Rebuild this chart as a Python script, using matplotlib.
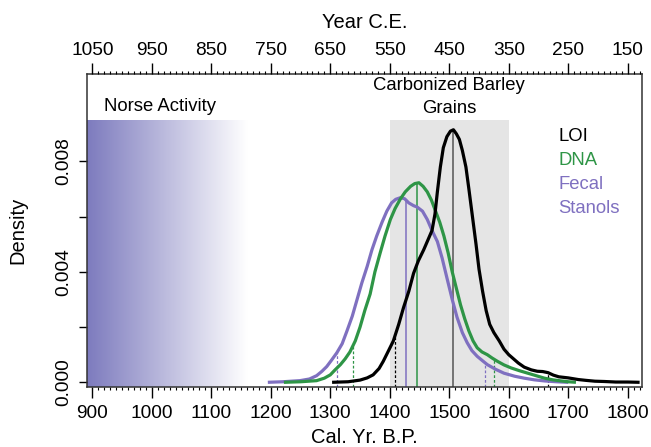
import numpy as np
import matplotlib
matplotlib.use("Agg")
import matplotlib.pyplot as plt
from matplotlib.ticker import MultipleLocator

plt.rcParams['font.family'] = ['Liberation Sans', 'DejaVu Sans']

# ---- data ----
loi_bp = [1303, 1330, 1350, 1362, 1372, 1382, 1389, 1398, 1406, 1415, 1423, 1432, 1440, 1448,
          1457, 1465, 1471, 1476, 1480, 1485, 1490, 1496, 1502, 1507, 1512, 1517, 1522, 1528,
          1533, 1539, 1545, 1550, 1556, 1562, 1568, 1575, 1584, 1592, 1600, 1608, 1616, 1626,
          1638, 1648, 1657, 1666, 1675, 1684, 1700, 1717, 1730, 1745, 1760, 1780, 1800, 1820]
loi_dens = [0.0, 0.00002, 0.00008, 0.00016, 0.00027, 0.00050, 0.00076, 0.00115, 0.0015, 0.0021,
            0.0027, 0.0033, 0.00395, 0.0044, 0.0048, 0.0052, 0.0055, 0.0061, 0.0069, 0.0078,
            0.0085, 0.0089, 0.0091, 0.00915, 0.0090, 0.0088, 0.0084, 0.0078, 0.0070, 0.0060,
            0.0050, 0.0041, 0.0033, 0.0026, 0.0021, 0.0018, 0.0015, 0.0012, 0.0010, 0.00085,
            0.0007, 0.00055, 0.00045, 0.0004, 0.00039, 0.00035, 0.00026, 0.0002, 0.00016,
            0.0001, 0.00007, 0.00004, 0.00003, 0.00001, 0.00001, 0.0]

dna_bp = [1222, 1250, 1277, 1290, 1300, 1308, 1317, 1325, 1333, 1342, 1350, 1358, 1367, 1375,
          1384, 1392, 1401, 1409, 1418, 1426, 1435, 1442, 1449, 1456, 1463, 1470, 1477, 1484,
          1491, 1498, 1505, 1512, 1519, 1526, 1533, 1540, 1547, 1555, 1564, 1572, 1581, 1592,
          1604, 1618, 1632, 1646, 1660, 1674, 1688, 1700, 1713]
dna_dens = [0.0, 0.00002, 0.00006, 0.00015, 0.00027, 0.00045, 0.00064, 0.00085, 0.0011, 0.0015,
            0.0020, 0.0026, 0.0032, 0.0040, 0.0047, 0.0053, 0.0059, 0.0063, 0.00665, 0.0069,
            0.0071, 0.0072, 0.00723, 0.0071, 0.0069, 0.0066, 0.0062, 0.0058, 0.0053, 0.0047,
            0.0040, 0.0034, 0.0028, 0.0023, 0.00186, 0.0015, 0.00125, 0.0011, 0.0010, 0.00088,
            0.00076, 0.00063, 0.00052, 0.00042, 0.00033, 0.00024, 0.00015, 0.00009, 0.00005,
            0.00002, 0.0]

fec_bp = [1195, 1220, 1249, 1265, 1277, 1286, 1294, 1302, 1311, 1320, 1328, 1337, 1345, 1353,
          1362, 1370, 1378, 1387, 1395, 1403, 1410, 1418, 1425, 1432, 1440, 1446, 1455, 1463,
          1471, 1480, 1488, 1497, 1505, 1513, 1522, 1530, 1538, 1547, 1556, 1564, 1578, 1592,
          1610, 1626, 1643, 1660, 1680, 1700]
fec_dens = [0.0, 0.00002, 0.00006, 0.00012, 0.00024, 0.0004, 0.00057, 0.0008, 0.00107, 0.0014,
            0.00186, 0.0024, 0.0030, 0.0036, 0.0042, 0.0048, 0.0053, 0.0058, 0.0062, 0.0065,
            0.00663, 0.00669, 0.00665, 0.0065, 0.0064, 0.00635, 0.0062, 0.0059, 0.0055, 0.0051,
            0.0045, 0.0037, 0.0030, 0.00236, 0.0018, 0.00144, 0.00115, 0.00094, 0.00078,
            0.00064, 0.00047, 0.00033, 0.00022, 0.00015, 0.00009, 0.00005, 0.00002, 0.0]

# central values and interval bounds
loi_mid, loi_lo, loi_hi = 1507, 1408, 1666
dna_mid, dna_lo, dna_hi = 1446, 1339, 1576
fec_mid, fec_lo, fec_hi = 1427, 1311, 1560

bottom_ticks = [900, 1000, 1100, 1200, 1300, 1400, 1500, 1600, 1700, 1800]
top_labels = [str(1950 - t) for t in bottom_ticks]
y_ticks = [0.000, 0.002, 0.004, 0.006, 0.008]
y_labels = ["0.000", "", "0.004", "", "0.008"]

norse_span = (891, 1160)
barley_span = (1400, 1600)
shade_top = 0.0095

# ---- style ----
c_loi = "black"
c_dna = "#2E9546"
c_fec = "#7F70C0"
c_norse = np.array([125, 123, 190]) / 255.0

fig = plt.figure(figsize=(6.51, 4.47), dpi=100)
ax = fig.add_axes([87 / 651, 1 - 387 / 447, (642 - 87) / 651, (387 - 74) / 447])
xlim = (891, 1824)
ylim = (-0.00017, 0.01117)
ax.set_xlim(*xlim)
ax.set_ylim(*ylim)

# gradient for Norse activity
n = 256
t = np.linspace(0, 1, n)
grad = np.zeros((1, n, 3))
for k in range(3):
    grad[0, :, k] = c_norse[k] + (1 - c_norse[k]) * t
ax.imshow(grad, extent=[norse_span[0], norse_span[1], ylim[0], shade_top],
          aspect='auto', zorder=0, interpolation='bilinear')

# grey barley box
ax.fill_between(barley_span, ylim[0], shade_top, color="#E5E5E5", lw=0, zorder=0.5)

# vertical marker lines
def vlines(bp, dens, mid, lo, hi, color, midcolor):
    ymid = np.interp(mid, bp, dens)
    ax.plot([mid, mid], [ylim[0], ymid], color=midcolor, lw=1.1, zorder=1)
    for v in (lo, hi):
        yv = np.interp(v, bp, dens)
        ax.plot([v, v], [ylim[0], yv], color=color, lw=0.9, ls=(0, (2.2, 1.6)), zorder=1)

vlines(fec_bp, fec_dens, fec_mid, fec_lo, fec_hi, c_fec, c_fec)
vlines(dna_bp, dna_dens, dna_mid, dna_lo, dna_hi, c_dna, c_dna)
vlines(loi_bp, loi_dens, loi_mid, loi_lo, loi_hi, "black", "#555555")

ax.plot(fec_bp, fec_dens, color=c_fec, lw=2.3, zorder=2, solid_capstyle='butt')
ax.plot(dna_bp, dna_dens, color=c_dna, lw=2.3, zorder=3, solid_capstyle='butt')
ax.plot(loi_bp, loi_dens, color=c_loi, lw=2.3, zorder=4, solid_capstyle='butt')

# texts
fs = 13.3
ax.text(1013, 0.0100, "Norse Activity", ha='center', va='center', fontsize=fs)
ax.text(1500, 0.01077, "Carbonized Barley", ha='center', va='center', fontsize=fs)
ax.text(1500, 0.00992, "Grains", ha='center', va='center', fontsize=fs)
ax.text(1683, 0.0089, "LOI", color=c_loi, ha='left', va='center', fontsize=fs)
ax.text(1683, 0.00804, "DNA", color=c_dna, ha='left', va='center', fontsize=fs)
ax.text(1683, 0.00717, "Fecal", color=c_fec, ha='left', va='center', fontsize=fs)
ax.text(1683, 0.00631, "Stanols", color=c_fec, ha='left', va='center', fontsize=fs)

# axes styling
for s in ax.spines.values():
    s.set_color("#333333")
    s.set_linewidth(1.1)

tfs = 13.8
lfs = 14.5
ax.set_xticks(bottom_ticks)
ax.set_xticklabels([str(v) for v in bottom_ticks], fontsize=tfs)
ax.xaxis.set_minor_locator(MultipleLocator(10))
ax.tick_params(axis='x', which='major', direction='out', length=8, width=1, pad=5)
ax.tick_params(axis='x', which='minor', direction='out', length=2.5, width=0.8)
ax.set_yticks(y_ticks)
ax.set_yticklabels(y_labels, fontsize=tfs, rotation=90, va='center')
ax.tick_params(axis='y', which='major', direction='out', length=5.5, width=1, pad=5)
ax.set_xlabel("Cal. Yr. B.P.", fontsize=lfs, labelpad=4)
ax.set_ylabel("Density", fontsize=lfs, labelpad=20)

top = ax.twiny()
top.set_xlim(*xlim)
top.set_xticks(bottom_ticks)
top.set_xticklabels(top_labels, fontsize=tfs)
top.xaxis.set_minor_locator(MultipleLocator(10))
top.tick_params(axis='x', which='major', direction='out', length=8, width=1, pad=3)
top.tick_params(axis='x', which='minor', direction='out', length=2.5, width=0.8)
top.set_xlabel("Year C.E.", fontsize=lfs, labelpad=10)
for s in top.spines.values():
    s.set_visible(False)

fig.savefig("out.png", dpi=100)
